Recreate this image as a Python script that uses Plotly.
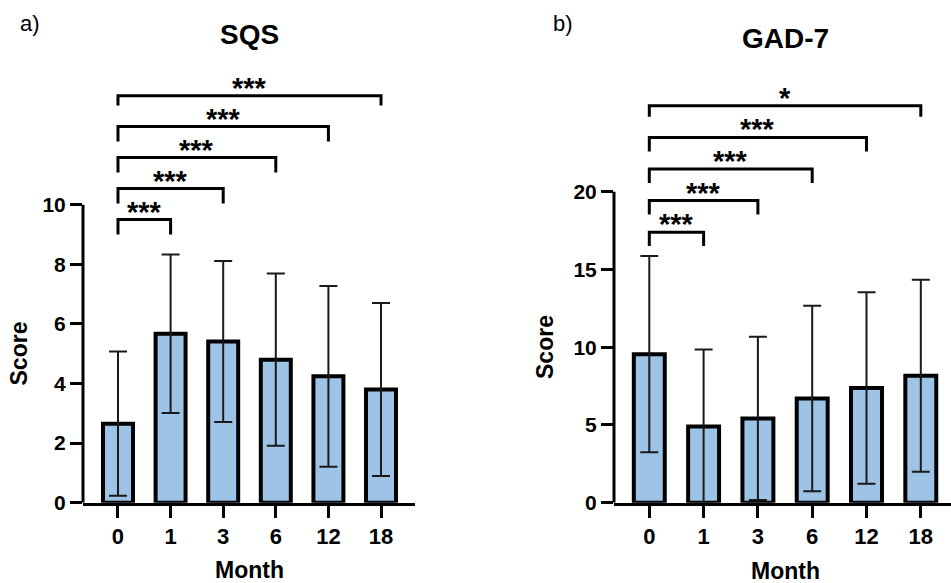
import plotly.graph_objects as go

# ---------------- data ----------------
months = ["0", "1", "3", "6", "12", "18"]
sqs_mean = [2.65, 5.67, 5.41, 4.80, 4.24, 3.80]
sqs_sd = [2.42, 2.66, 2.70, 2.89, 3.03, 2.90]
gad_mean = [9.55, 4.90, 5.42, 6.70, 7.38, 8.16]
gad_sd = [6.31, 4.96, 5.25, 5.97, 6.16, 6.17]
# comparisons of month 0 against month index k, with significance label
sqs_comp = [(0, 1, "***"), (0, 2, "***"), (0, 3, "***"), (0, 4, "***"), (0, 5, "***")]
gad_comp = [(0, 1, "***"), (0, 2, "***"), (0, 3, "***"), (0, 4, "***"), (0, 5, "*")]
sqs_ticks = [0, 2, 4, 6, 8, 10]
gad_ticks = [0, 5, 10, 15, 20]

# ---------------- style / layout constants ----------------
FONT = "Arial, Liberation Sans, Helvetica, sans-serif"
FILL = "#9DC3E6"
W, H = 951, 583

# bracket geometry (data units): base height, step, leg length
sqs_br = dict(base=9.5, step=1.04, leg=0.5, leg_top=0.33)
gad_br = dict(base=17.4, step=2.03, leg=0.9, leg_top=0.7)

xpos = list(range(len(months)))

fig = go.Figure()


def add_panel(means, sds, comps, br, xa, ya):
    fig.add_trace(go.Bar(
        x=xpos, y=means, width=0.57,
        marker=dict(color=FILL, line=dict(color="black", width=4)),
        error_y=dict(type="data", array=sds, visible=True, color="#1a1a1a",
                     thickness=2, width=9),
        xaxis=xa, yaxis=ya, showlegend=False,
    ))
    n = len(comps)
    for i, (a, b, lab) in enumerate(comps):
        yb = br["base"] + br["step"] * i
        leg = br["leg_top"] if i == n - 1 else br["leg"]
        fig.add_trace(go.Scatter(
            x=[xpos[a], xpos[a], xpos[b], xpos[b]],
            y=[yb - leg, yb, yb, yb - leg],
            mode="lines", line=dict(color="black", width=3),
            xaxis=xa, yaxis=ya, showlegend=False, hoverinfo="skip",
        ))
        fig.add_annotation(
            x=(xpos[a] + xpos[b]) / 2, y=yb, xref=xa, yref=ya,
            text="<b>%s</b>" % lab, showarrow=False, yanchor="middle",
            yshift=8, font=dict(family=FONT, size=29, color="black"),
        )


add_panel(sqs_mean, sqs_sd, sqs_comp, sqs_br, "x", "y")
add_panel(gad_mean, gad_sd, gad_comp, gad_br, "x2", "y2")

ybot = (H - 502.7) / H
axis_common = dict(
    showgrid=False, zeroline=False, ticks="outside", ticklen=12, tickwidth=3,
    tickcolor="black", color="black", automargin=False,
)

fig.update_layout(
    width=W, height=H, margin=dict(l=0, r=0, t=0, b=0, pad=0, autoexpand=False),
    paper_bgcolor="white", plot_bgcolor="white",
    xaxis=dict(domain=[83 / W, 415 / W], range=[-0.665, 5.646],
               tickvals=xpos, ticktext=months, showline=True, linewidth=3,
               linecolor="black",
               tickfont=dict(family=FONT, size=22, color="black", weight="bold"),
               anchor="y", **axis_common),
    yaxis=dict(domain=[ybot, (H - 70.6) / H], range=[0, 14.5],
               tickvals=sqs_ticks, showline=False,
               tickfont=dict(family=FONT, size=21, color="black", weight="bold"),
               anchor="x", **axis_common),
    xaxis2=dict(domain=[614 / W, 1.0], range=[-0.65, 5.556],
                tickvals=xpos, ticktext=months, showline=True, linewidth=3,
                linecolor="black",
                tickfont=dict(family=FONT, size=22, color="black", weight="bold"),
                anchor="y2", **axis_common),
    yaxis2=dict(domain=[ybot, (H - 82.85) / H], range=[0, 27],
                tickvals=gad_ticks, showline=False,
                tickfont=dict(family=FONT, size=21, color="black", weight="bold"),
                anchor="x2", **axis_common),
)

# y-axis lines spanning only the ticked range
fig.add_shape(type="line", xref="paper", yref="y", x0=83 / W, x1=83 / W,
              y0=0, y1=sqs_ticks[-1], line=dict(color="black", width=3))
fig.add_shape(type="line", xref="paper", yref="y2", x0=614 / W, x1=614 / W,
              y0=0, y1=gad_ticks[-1], line=dict(color="black", width=3))


def txt(x, y, s, size, bold=True, angle=0):
    fig.add_annotation(
        x=x / W, y=(H - y) / H, xref="paper", yref="paper", showarrow=False,
        text=("<b>%s</b>" % s) if bold else s, textangle=angle,
        xanchor="center", yanchor="middle",
        font=dict(family=FONT, size=size, color="black"),
    )


txt(250, 34, "SQS", 28)
txt(785, 39, "GAD-7", 28)
txt(30, 23, "a)", 22, bold=False)
txt(562.5, 23, "b)", 22, bold=False)
txt(18, 353.5, "Score", 23, angle=-90)
txt(545, 347, "Score", 23, angle=-90)
txt(250, 570, "Month", 23)
txt(785, 571, "Month", 23)

fig.write_html(
    "out.html",
    config={"displayModeBar": False},
    post_script="document.body.style.margin='0';document.body.style.overflow='hidden';",
)
